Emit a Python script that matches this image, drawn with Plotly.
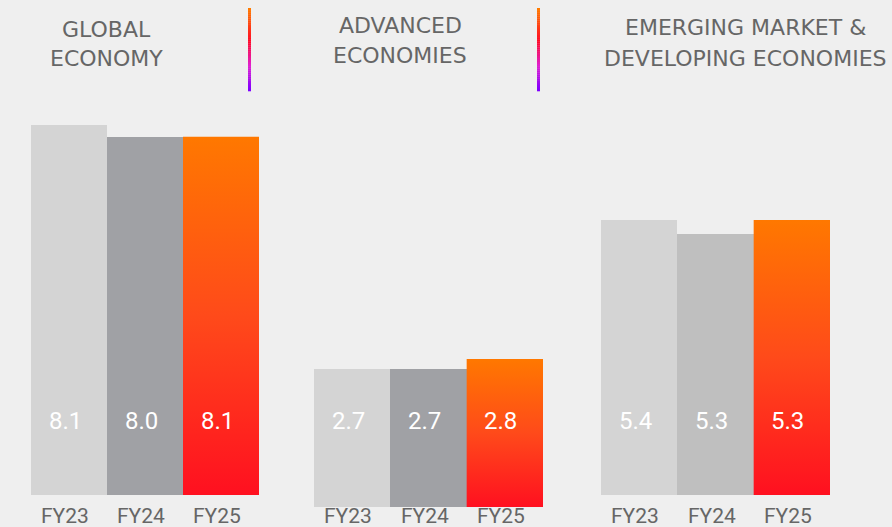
import plotly.graph_objects as go

# data
years = ["FY23", "FY24", "FY25"]
panel_titles = ["GLOBAL<br>ECONOMY", "ADVANCED<br>ECONOMIES", "EMERGING MARKET &<br>DEVELOPING ECONOMIES"]
value_labels = [[8.1, 8.0, 8.1], [2.7, 2.7, 2.8], [5.4, 5.3, 5.3]]
# bar heights as drawn in the picture (not always consistent with the rounded labels)
bar_heights = [[8.10, 7.84, 7.84], [3.02, 3.02, 3.24], [6.02, 5.71, 6.02]]

W, H = 892, 527
BG = "#efefef"
PX_PER_UNIT = 45.68
TITLE_FONT = "DejaVu Sans"
NUM_FONT = "Roboto"

# panel geometry in pixels: (left, right, baseline)
panels = [(31, 259, 495), (314, 543, 507), (601, 830, 495)]
title_pos = [(106, 30, 59), (400, 26, 55), (745, 27, 58)]
fy24_colors = ["#a0a1a5", "#a0a1a5", "#bfbfbf"]
TOP = 100

fig = go.Figure()

for i, (left, right, base) in enumerate(panels):
    n = i + 1
    xa = "x" if n == 1 else f"x{n}"
    ya = "y" if n == 1 else f"y{n}"
    heights = bar_heights[i]

    fig.add_trace(go.Bar(
        x=[0, 1], y=heights[:2],
        marker=dict(color=["#d4d4d4", fy24_colors[i]], line=dict(width=0)),
        width=1.0, xaxis=xa, yaxis=ya, showlegend=False, hoverinfo="skip",
    ))
    # FY25 bar with gradient fill
    h = heights[2]
    fig.add_trace(go.Scatter(
        x=[1.5, 2.5, 2.5, 1.5, 1.5], y=[0, 0, h, h, 0],
        mode="lines", fill="toself", line=dict(width=0),
        fillgradient=dict(type="vertical", colorscale=[[0, "#ff1020"], [0.5, "#ff4a1a"], [1, "#ff7800"]]),
        xaxis=xa, yaxis=ya, showlegend=False, hoverinfo="skip",
    ))

    fig.layout[f"xaxis{'' if n == 1 else n}"] = dict(
        domain=[left / W, right / W], range=[-0.5, 2.5], visible=False, fixedrange=True,
    )
    fig.layout[f"yaxis{'' if n == 1 else n}"] = dict(
        domain=[1 - base / H, 1 - TOP / H], range=[0, (base - TOP) / PX_PER_UNIT],
        visible=False, fixedrange=True,
    )

    for j, yr in enumerate(years):
        fig.add_annotation(
            x=j, xref=xa, y=1 - 421 / H, yref="paper", text=f"{value_labels[i][j]:.1f}",
            showarrow=False, xshift=-4, xanchor="center", yanchor="middle",
            font=dict(family=NUM_FONT, size=24, color="#ffffff"),
        )
        fig.add_annotation(
            x=j, xref=xa, y=1 - 516 / H, yref="paper", text=yr,
            showarrow=False, xshift=-4, xanchor="center", yanchor="middle",
            font=dict(family=NUM_FONT, size=21, color="#666666"),
        )

    cx, y1, y2 = title_pos[i]
    for k, line in enumerate(panel_titles[i].split("<br>")):
        fig.add_annotation(
            x=cx / W, xref="paper", y=1 - (y1 if k == 0 else y2) / H, yref="paper",
            text=line, showarrow=False, xanchor="center", yanchor="middle",
            font=dict(family=TITLE_FONT, size=22, color="#666666"),
        )

# gradient separators
stops = [(0.0, (255, 122, 0)), (0.4, (255, 10, 40)), (0.7, (224, 32, 208)), (1.0, (128, 0, 255))]


def _grad(t):
    for (t0, c0), (t1, c1) in zip(stops, stops[1:]):
        if t <= t1:
            f = (t - t0) / (t1 - t0)
            return "rgb(%d,%d,%d)" % tuple(round(a + (b - a) * f) for a, b in zip(c0, c1))
    return "rgb(128,0,255)"


seg = 40
for sx in (248, 537):
    y_top, y_bot = 8, 91
    for s in range(seg):
        ya0 = y_top + (y_bot - y_top) * s / seg
        ya1 = y_top + (y_bot - y_top) * (s + 1) / seg + 0.3
        fig.add_shape(
            type="rect", xref="paper", yref="paper",
            x0=sx / W, x1=(sx + 3) / W, y0=1 - ya1 / H, y1=1 - ya0 / H,
            fillcolor=_grad(s / (seg - 1)), line=dict(width=0), layer="above",
        )

fig.update_layout(
    width=W, height=H,
    margin=dict(l=0, r=0, t=0, b=0),
    paper_bgcolor=BG, plot_bgcolor=BG,
    bargap=0, showlegend=False,
)

fig.write_html(
    "out.html",
    config={"displayModeBar": False},
    post_script="document.body.style.margin='0';document.body.style.overflow='hidden';",
)
